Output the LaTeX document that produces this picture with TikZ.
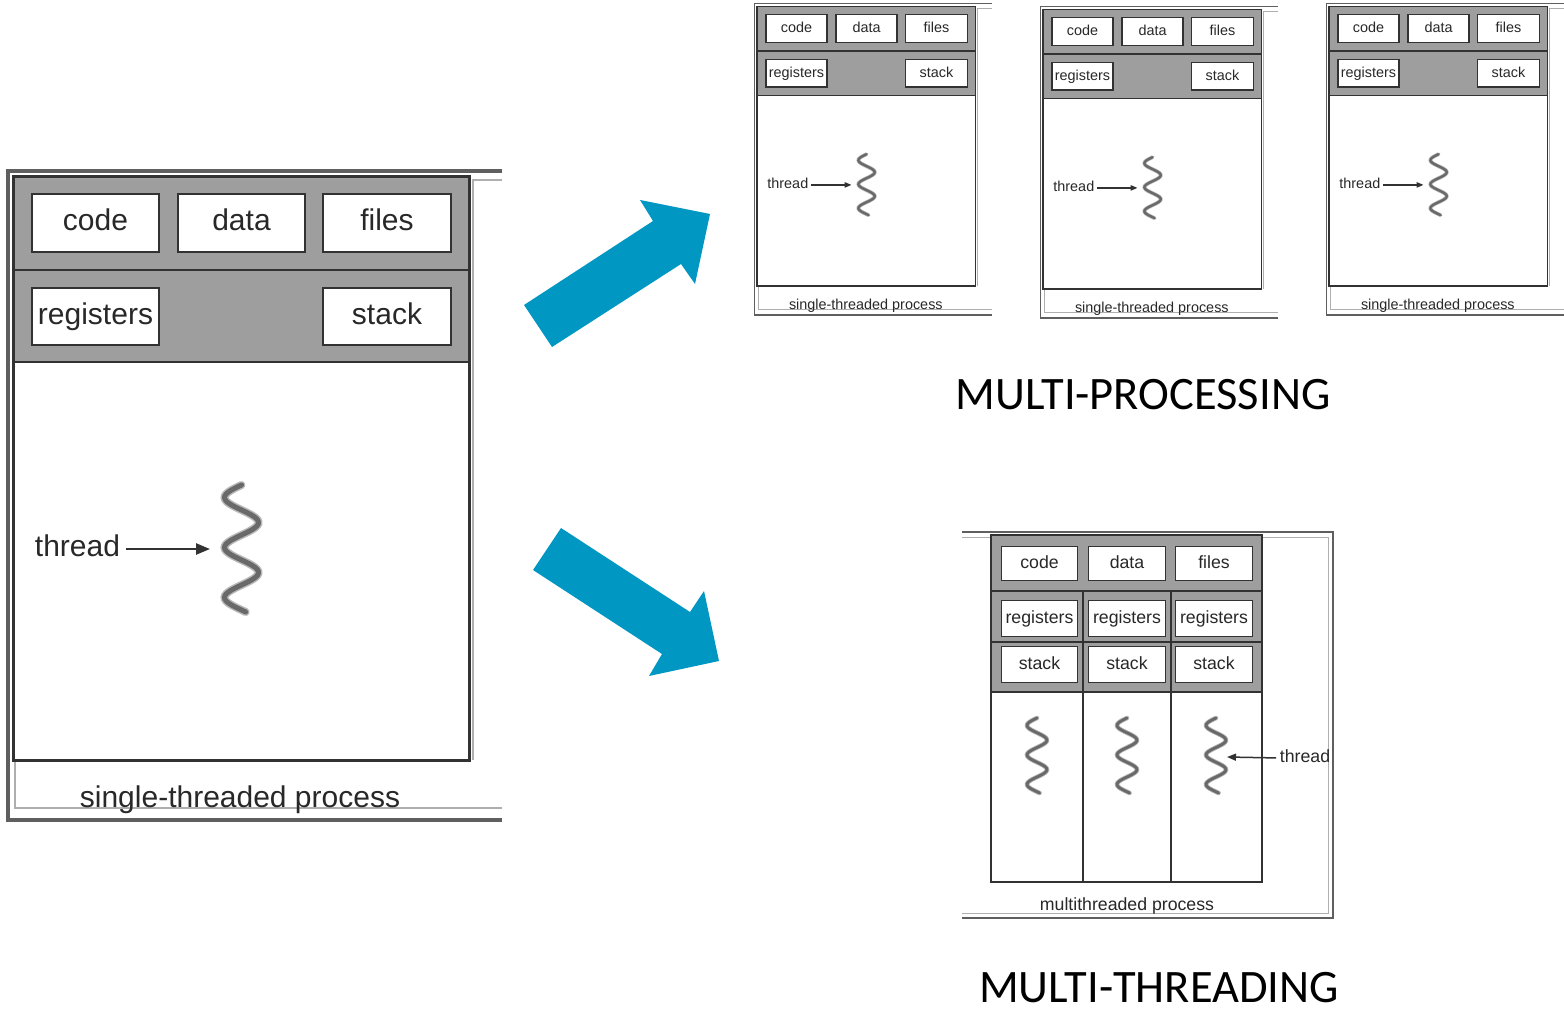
\documentclass[tikz,border=0pt]{standalone}
\usepackage{fontspec}
\setmainfont{Liberation Sans}
\newfontfamily\captionfont{Carlito}
\usetikzlibrary{arrows.meta}

\definecolor{arrowblue}{RGB}{0,152,195}
\definecolor{panelgray}{RGB}{158,158,158}
\definecolor{edgegray}{RGB}{50,50,50}
\definecolor{framegray}{RGB}{95,95,95}
\definecolor{lightframe}{RGB}{175,175,175}
\definecolor{wavegray}{RGB}{105,105,105}
\definecolor{wavehalo}{RGB}{185,185,185}
\definecolor{textgray}{RGB}{40,40,40}

\tikzset{
  seg/.style={draw=edgegray, fill=white, inner sep=0pt, text=textgray},
  lbl/.style={inner sep=0pt, text=textgray},
  bigtext/.style={font=\fontsize{30}{36}\selectfont, text height=21.6pt, text depth=6pt},
  smalltext/.style={font=\fontsize{17.7}{21}\selectfont, text height=12.7pt, text depth=3.5pt},
  wave/.style={draw=wavegray, line cap=round},
  halo/.style={draw=wavehalo, line cap=round},
  pointer/.style={draw=edgegray},
  bigarrow/.style={fill=arrowblue},
  caption/.style={inner sep=0pt, text depth=0pt, font=\captionfont\fontsize{46.5}{56}\selectfont}
}

% A single-threaded process panel; #1 name prefix, (#2,#3) top-left corner, #4 scale
\newcommand\stproc[4]{%
\begin{scope}[shift={(#2,#3)}, scale=#4, transform shape]
  % outer frame, open on the right
  \draw[framegray, line width=#4*4pt] (495,1) -- (1,1) -- (1,650) -- (495,650);
  \draw[lightframe, line width=#4*1.2pt] (8,590) -- (8,638) -- (495,638);
  \draw[lightframe, line width=#4*1.2pt] (466,590) -- (466,10) -- (495,10);
  % shared area and thread area
  \fill[panelgray] (6,7) rectangle (462,192);
  \draw[edgegray, line width=#4*2.5pt] (6,100) -- (462,100);
  \draw[edgegray, line width=#4*2.5pt] (6,192) -- (462,192);
  \draw[edgegray, line width=#4*3pt] (6,7) rectangle (462,590);
  % resource boxes
  \begin{scope}[every node/.append style={bigtext, line width=#4*2.5pt}]
    \node[seg, minimum width=127, minimum height=58] (#1code) at (88.5,53) {code};
    \node[seg, minimum width=127, minimum height=58] (#1data) at (234.5,53) {data};
    \node[seg, minimum width=128, minimum height=58] (#1files) at (380,53) {files};
    \node[seg, minimum width=127, minimum height=57] (#1regs) at (88.5,146.5) {registers};
    \node[seg, minimum width=128, minimum height=57] (#1stack) at (380,146.5) {stack};
    \node[lbl] (#1thr) at (70.5,379) {thread};
    \node[lbl] (#1name) at (233,630) {single-threaded process};
  \end{scope}
  % the thread
  \draw[halo, line width=#4*8pt] plot[domain=0:127, samples=70, smooth] ({234.5-17*sin(7.2*\x)}, {315+\x});
  \draw[wave, line width=#4*5pt] plot[domain=0:127, samples=70, smooth] ({234.5-17*sin(7.2*\x)}, {315+\x});
  \coordinate (#1tip) at (203,379);
  \draw[pointer, line width=#4*2.5pt, -{Triangle[length=14pt, width=11pt, scale=#4]}, shorten <=#4*5pt] (#1thr.east) -- (#1tip);
\end{scope}}

\begin{document}
\begin{tikzpicture}[x=1pt, y=-1pt]
  \useasboundingbox (0,0) rectangle (1564,1011);
  \fill[white] (0,0) rectangle (1564,1011);

  % single-threaded process and its three copies
  \stproc{st}{7}{170}{1}
  \stproc{pa}{754}{3}{0.48}
  \stproc{pb}{1040}{6}{0.48}
  \stproc{pc}{1326}{3}{0.48}

  % direction arrows
  \fill[bigarrow] (524,305) -- (653,221) -- (640,200) -- (710,214) -- (695,284) -- (681,264) -- (552,347) -- cycle;
  \fill[bigarrow] (561,528) -- (690,612) -- (704,591) -- (719,661) -- (649,676) -- (662,654) -- (533,570) -- cycle;

  % multithreaded process
  \draw[framegray, line width=2.5pt] (962,532) -- (1333,532) -- (1333,918) -- (962,918);
  \draw[lightframe, line width=1pt] (962,537) -- (1328,537) -- (1328,913) -- (962,913);
  \fill[panelgray] (991,535) rectangle (1262,692);
  \draw[edgegray, line width=1.6pt] (991,591) -- (1262,591);
  \draw[edgegray, line width=1.6pt] (991,642) -- (1262,642);
  \draw[edgegray, line width=1.6pt] (991,692) -- (1262,692);
  \draw[edgegray, line width=1.6pt] (1083,591) -- (1083,882);
  \draw[edgegray, line width=1.6pt] (1171,591) -- (1171,882);
  \draw[edgegray, line width=2pt] (991,535) rectangle (1262,882);
  \begin{scope}[every node/.append style={smalltext, line width=1.5pt}]
    \node[seg, minimum width=76, minimum height=34] (mcode) at (1039.5,563.5) {code};
    \node[seg, minimum width=77, minimum height=34] (mdata) at (1127,563.5) {data};
    \node[seg, minimum width=77, minimum height=34] (mfiles) at (1214,563.5) {files};
    \node[seg, minimum width=76, minimum height=36] (mregsa) at (1039.5,618.5) {registers};
    \node[seg, minimum width=77, minimum height=36] (mregsb) at (1127,618.5) {registers};
    \node[seg, minimum width=77, minimum height=36] (mregsc) at (1214,618.5) {registers};
    \node[seg, minimum width=76, minimum height=36] (mstacka) at (1039.5,664.5) {stack};
    \node[seg, minimum width=77, minimum height=36] (mstackb) at (1127,664.5) {stack};
    \node[seg, minimum width=77, minimum height=36] (mstackc) at (1214,664.5) {stack};
    \node[lbl] (mthr) at (1305,758) {thread};
    \node[lbl] (mname) at (1127,906) {multithreaded process};
  \end{scope}
  \foreach \cx in {1037,1127,1216} {
    \draw[halo, line width=4.6pt] plot[domain=0:75, samples=50, smooth] ({\cx-10*sin(12.2*\x)}, {718+\x});
    \draw[wave, line width=2.9pt] plot[domain=0:75, samples=50, smooth] ({\cx-10*sin(12.2*\x)}, {718+\x});
  }
  \coordinate (mtip) at (1227,757);
  \draw[pointer, line width=1.5pt, -{Triangle[length=9pt, width=7pt]}, shorten <=3pt] (mthr.west) -- (mtip);

  % headings
  \node[caption] (mp) at (1143,394) {MULTI-PROCESSING};
  \node[caption] (mt) at (1159,987) {MULTI-THREADING};
\end{tikzpicture}
\end{document}
